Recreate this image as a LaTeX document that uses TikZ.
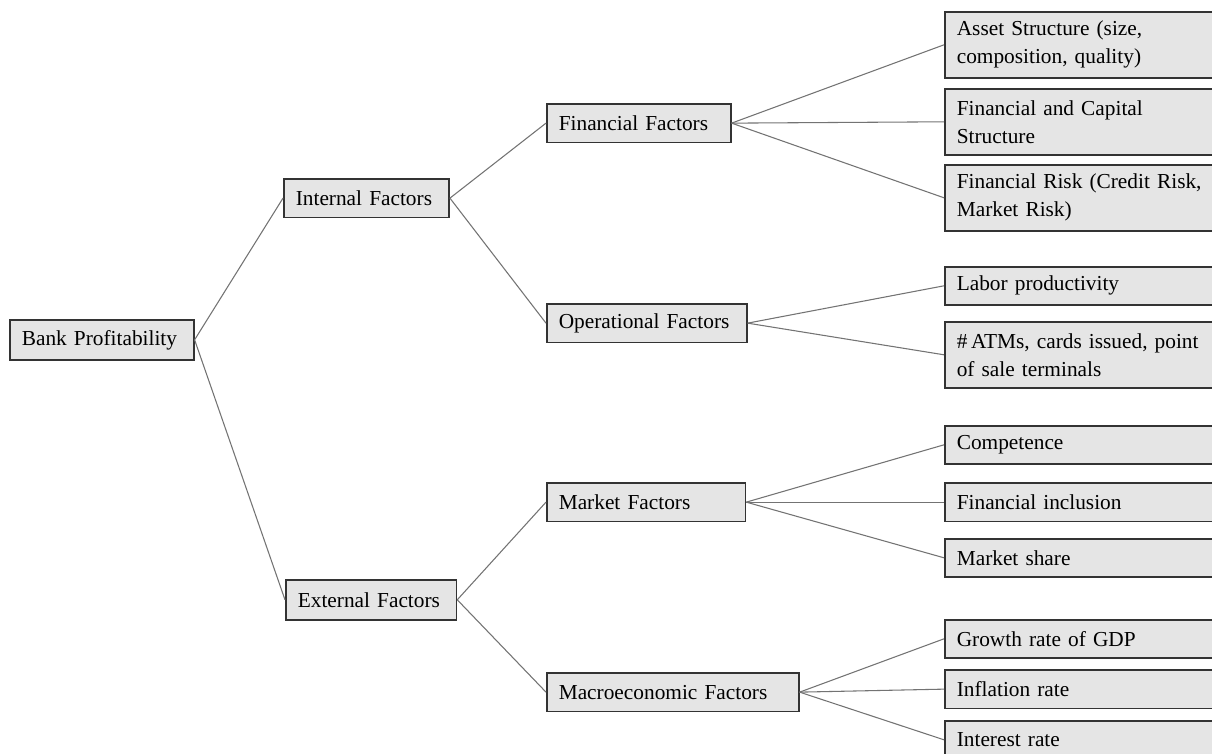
\documentclass[tikz,border=0pt]{standalone}
\usepackage{fontspec}
\setmainfont{Liberation Serif}
\usepackage{tikz}
\usetikzlibrary{positioning}

\tikzset{
  factor/.style={draw=black!80, fill=black!10, line width=1.2pt, align=left,
    inner xsep=9pt, inner ysep=2pt, anchor=north west,
    font=\fontsize{16pt}{21pt}\selectfont},
  leaf/.style={factor, text width=192pt},
  link/.style={draw=black!55, line width=0.8pt}
}

\begin{document}
\begin{tikzpicture}[x=0.75pt,y=-0.75pt]
  \useasboundingbox (0,0) rectangle (1212,753);
  \clip (0,0) rectangle (1212,753);

  % root and first level
  \node[factor, text width=120pt, minimum height=30pt] (bank) at (9,319) {Bank Profitability};
  \node[factor, text width=106pt, minimum height=29pt] (int) at (283,178) {Internal Factors};
  \node[factor, text width=110pt, minimum height=30pt] (ext) at (285,579) {External Factors};

  % second level
  \node[factor, text width=120pt, minimum height=29pt] (fin) at (546,103) {Financial Factors};
  \node[factor, text width=132pt, minimum height=29pt] (op) at (546,303) {Operational Factors};
  \node[factor, text width=131pt, minimum height=29pt] (mkt) at (546,482) {Market Factors};
  \node[factor, text width=171pt, minimum height=29pt] (mac) at (546,672) {Macroeconomic Factors};

  % leaves
  \node[leaf, minimum height=49.5pt] (asset) at (944,11) {Asset Structure (size,\\composition, quality)};
  \node[leaf, minimum height=49.5pt] (cap) at (944,88) {Financial and Capital\\Structure};
  \node[leaf, minimum height=49.5pt] (risk) at (944,164) {Financial Risk (Credit Risk,\\Market Risk)};
  \node[leaf, minimum height=28.5pt] (labor) at (944,266) {Labor productivity};
  \node[leaf, minimum height=49.5pt] (atm) at (944,321) {\#\,ATMs, cards issued, point\\of sale terminals};
  \node[leaf, minimum height=28.5pt] (comp) at (944,425) {Competence};
  \node[leaf, minimum height=29pt] (incl) at (944,482) {Financial inclusion};
  \node[leaf, minimum height=28.5pt] (share) at (944,538) {Market share};
  \node[leaf, minimum height=28.5pt] (gdp) at (944,619) {Growth rate of GDP};
  \node[leaf, minimum height=29pt] (infl) at (944,669) {Inflation rate};
  \node[leaf, minimum height=28.5pt] (rate) at (944,720) {Interest rate};

  \path[link]
    (bank.east) edge (int.west)
                edge (ext.west)
    (int.east)  edge (fin.west)
                edge (op.west)
    (ext.east)  edge (mkt.west)
                edge (mac.west)
    (fin.east)  edge (asset.west)
                edge (cap.west)
                edge (risk.west)
    (op.east)   edge (labor.west)
                edge (atm.west)
    (mkt.east)  edge (comp.west)
                edge (incl.west)
                edge (share.west)
    (mac.east)  edge (gdp.west)
                edge (infl.west)
                edge (rate.west);
\end{tikzpicture}
\end{document}
